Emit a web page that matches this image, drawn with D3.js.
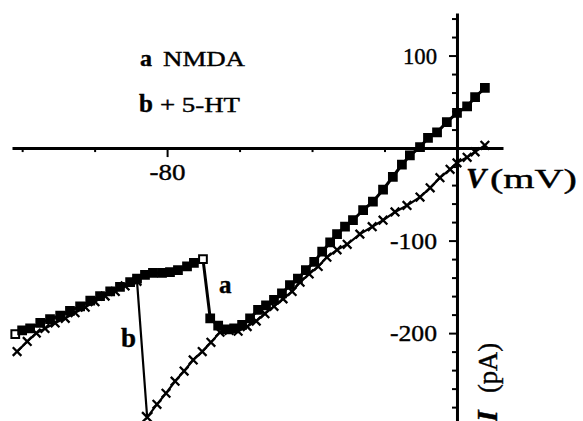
<!DOCTYPE html>
<html>
<head>
<meta charset="utf-8">
<script src="https://cdn.jsdelivr.net/npm/d3@7"></script>
<style>
  body { margin: 0; background: #fff; }
  text { font-family: "Liberation Serif", "Times New Roman", serif; fill: #000; stroke: #000; stroke-width: 0.4px; }
</style>
</head>
<body>
<div id="chart"></div>
<script>
// trace a: NMDA (filled squares)
var nmdaV = [-121.9, -120.0, -117.8, -115.0, -112.3, -109.5, -106.8, -104.0, -101.2, -98.5,
  -95.7, -93.0, -90.2, -88.3, -86.1, -83.9, -81.4, -79.2, -77.0, -74.5, -72.6, -70.1,
  -68.1, -65.9, -63.7, -61.5, -59.3, -57.1, -54.9, -52.7, -50.5, -48.3, -46.1, -43.9,
  -41.7, -39.4, -37.2, -35.0, -33.1, -30.9, -28.7, -25.9, -23.2, -20.4, -17.7, -15.2,
  -13.0, -10.2, -8.0, -5.5, -2.8, 0, 2.8, 5.0, 7.7];
var nmdaI = [-201, -197, -195, -189, -185, -181, -176, -171, -165, -160,
  -155, -150, -145, -141, -137, -135, -135, -134, -132, -128, -124, -120,
  -184, -192, -196, -195, -191, -184, -175, -170, -164, -157, -148, -141,
  -132, -123, -112, -102, -93, -85, -78, -67, -58, -45, -31, -18,
  -8, 1, 11, 17, 28, 38, 45, 55, 65];

// trace b: + 5-HT (crosses)
var htV = [-121.4, -118.6, -116.1, -113.7, -110.9, -108.1, -105.4, -102.6, -99.9, -97.1,
  -94.3, -91.6, -88.3, -85.5, -82.8, -80.3, -77.8, -75.3, -72.8, -70.3, -67.9, -65.4,
  -62.9, -60.4, -57.9, -55.4, -53.0, -50.5, -48.0, -45.5, -43.3, -40.8, -38.3, -35.9,
  -33.1, -30.3, -26.8, -23.4, -20.4, -17.1, -13.8, -10.2, -7.4, -4.7, -1.9, 0, 2.8, 5.0, 7.7];
var htI = [-220, -209, -200, -195, -189, -184, -178, -172, -166, -160,
  -155, -149, -144, -291, -277, -265, -252, -241, -229, -220, -210, -199,
  -197, -198, -193, -187, -179, -171, -163, -155, -145, -136, -128, -118,
  -110, -104, -93, -85, -78, -69, -62, -53, -43, -32, -23, -16, -10, -4, 3];

var xTicks = [-120, -100, -80, -60, -40, -20];
var xLabels = [-80];
var yTicks = [140, 120, 100, 80, 60, 40, 20, -20, -40, -60, -80, -100, -120, -140, -160, -180, -200, -220, -240, -260, -280];
var yLabels = [100, -100, -200];

var width = 583, height = 421;

var x = d3.scaleLinear().domain([-122.8, 12.7]).range([12, 503]);
var y = d3.scaleLinear().domain([146, -295]).range([13, 421]);

var svg = d3.select("#chart").append("svg")
    .attr("width", width)
    .attr("height", height);

// axes crossing at the origin
var xAxis = svg.append("g")
    .attr("transform", "translate(0," + y(0) + ")")
    .call(d3.axisBottom(x).tickValues(xTicks).tickSizeOuter(0).tickSizeInner(4)
        .tickFormat(function (d) { return xLabels.indexOf(d) >= 0 ? d : ""; }));
xAxis.select(".domain").attr("stroke-width", 3);
xAxis.selectAll(".tick line").attr("stroke-width", 2)
    .attr("y2", function (d) { return xLabels.indexOf(d) >= 0 ? 9 : 4; });
xAxis.selectAll(".tick text")
    .attr("y", 15)
    .attr("font-size", 24)
    .attr("textLength", 36).attr("lengthAdjust", "spacingAndGlyphs");

var yAxis = svg.append("g")
    .attr("transform", "translate(" + x(0) + ",0)")
    .call(d3.axisLeft(y).tickValues(yTicks).tickSizeOuter(0).tickSizeInner(5)
        .tickFormat(function (d) { return yLabels.indexOf(d) >= 0 ? d : ""; }));
yAxis.select(".domain").attr("stroke-width", 3);
yAxis.selectAll(".tick line").attr("stroke-width", 2)
    .attr("x2", function (d) { return yLabels.indexOf(d) >= 0 ? -8 : -5; });
yAxis.selectAll(".tick text")
    .attr("x", -20)
    .attr("font-size", 24)
    .attr("textLength", function (d) { return d > 0 ? 34 : 47; })
    .attr("lengthAdjust", "spacingAndGlyphs");

var nmda = nmdaV.map(function (v, i) { return [v, nmdaI[i]]; });
var ht = htV.map(function (v, i) { return [v, htI[i]]; });

var line = d3.line()
    .x(function (d) { return x(d[0]); })
    .y(function (d) { return y(d[1]); });

// trace b drawn first, a on top
svg.append("path").datum(ht)
    .attr("d", line).attr("fill", "none").attr("stroke", "#000").attr("stroke-width", 2.2);
svg.append("path").datum(nmda)
    .attr("d", line).attr("fill", "none").attr("stroke", "#000").attr("stroke-width", 3);

var cross = d3.symbol().type(d3.symbolTimes).size(50);
svg.selectAll(".ht").data(ht).enter().append("path")
    .attr("class", "ht")
    .attr("d", function (d, i) { return i === 13 ? d3.symbol().type(d3.symbolTimes).size(70)() : cross(); })
    .attr("transform", function (d) { return "translate(" + x(d[0]) + "," + y(d[1]) + ")"; })
    .attr("fill", "none").attr("stroke", "#000").attr("stroke-width", 2.3);

var square = d3.symbol().type(d3.symbolSquare).size(60);
var openIdx = [0, 21];
svg.selectAll(".nmda").data(nmda).enter().append("path")
    .attr("class", "nmda")
    .attr("d", square)
    .attr("transform", function (d) { return "translate(" + x(d[0]) + "," + y(d[1]) + ") rotate(" + (openIdx.indexOf(d) >= 0 ? 0 : 0) + ")"; })
    .attr("fill", function (d, i) { return openIdx.indexOf(i) >= 0 ? "#fff" : "#000"; })
    .attr("stroke", "#000").attr("stroke-width", 2);

// legend
svg.append("text").attr("x", 140).attr("y", 66).attr("font-size", 24).attr("font-weight", "bold").text("a");
svg.append("text").attr("x", 163).attr("y", 66).attr("font-size", 21)
    .attr("textLength", 82).attr("lengthAdjust", "spacingAndGlyphs").text("NMDA");
svg.append("text").attr("x", 139).attr("y", 112).attr("font-size", 25).attr("font-weight", "bold").text("b");
svg.append("text").attr("x", 160).attr("y", 112).attr("font-size", 21)
    .attr("textLength", 80).attr("lengthAdjust", "spacingAndGlyphs").text("+ 5-HT");

// trace labels
svg.append("text").attr("x", 219).attr("y", 293).attr("font-size", 25).attr("font-weight", "bold").text("a");
svg.append("text").attr("x", 121).attr("y", 347).attr("font-size", 27).attr("font-weight", "bold").text("b");

// axis titles
svg.append("text").attr("x", 466).attr("y", 188).attr("font-size", 30)
    .attr("font-weight", "bold").attr("font-style", "italic").text("V");
svg.append("text").attr("x", 490).attr("y", 188).attr("font-size", 28)
    .attr("textLength", 87).attr("lengthAdjust", "spacingAndGlyphs").text("(mV)");
svg.append("text").attr("transform", "translate(497,422) rotate(-90)").attr("font-size", 30)
    .attr("font-weight", "bold").attr("font-style", "italic").text("I");
svg.append("text").attr("transform", "translate(497,393) rotate(-90)").attr("font-size", 28)
    .attr("textLength", 50).attr("lengthAdjust", "spacingAndGlyphs").text("(pA)");
</script>
</body>
</html>
